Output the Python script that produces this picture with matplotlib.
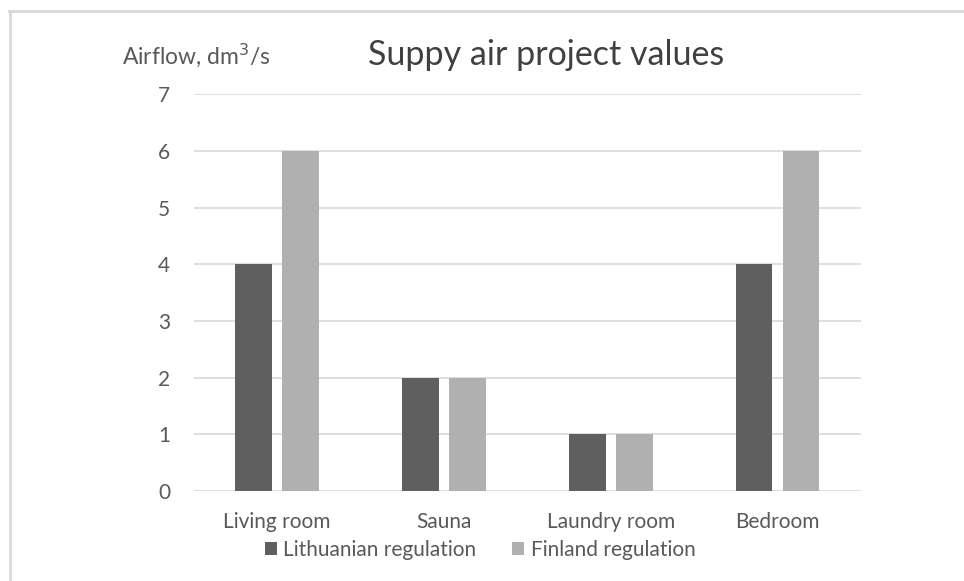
import matplotlib
matplotlib.use("Agg")
import matplotlib.pyplot as plt
from matplotlib.lines import Line2D
import numpy as np

rooms = ["Living room", "Sauna", "Laundry room", "Bedroom"]
lithuanian = [4, 2, 1, 4]
finland = [6, 2, 1, 6]
series_names = ["Lithuanian regulation", "Finland regulation"]

plt.rcParams['font.family'] = ['Lato', 'DejaVu Sans']
text_col = '#595959'
dark = '#5f5f5f'
light = '#b0b0b0'
grid_col = '#d9d9d9'

fig = plt.figure(figsize=(9.64, 5.81), dpi=100)
ax = fig.add_axes([0.201, 0.155, 0.692, 0.683])

x = np.arange(len(rooms))
w = 0.22
off = 0.141
ax.bar(x - off, lithuanian, w, color=dark, label=series_names[0], zorder=3)
ax.bar(x + off, finland, w, color=light, label=series_names[1], zorder=3)

ax.set_xlim(-0.5, len(rooms) - 0.5)
ax.set_ylim(0, 7)
ax.set_yticks(range(8))
ax.set_xticks(x)
ax.set_xticklabels(rooms)
ax.yaxis.grid(True, color=grid_col, linewidth=1.2, zorder=0)
for s in ax.spines.values():
    s.set_visible(False)
ax.tick_params(axis='both', length=0, labelsize=15, labelcolor=text_col)
ax.tick_params(axis='y', pad=17)
ax.tick_params(axis='x', pad=15)

fig.text(0.567, 0.905, "Suppy air project values", ha='center', va='center',
         fontsize=24.5, color='#404040')
fig.text(0.127, 0.905, "Airflow, dm$^3$/s", ha='left', va='center',
         fontsize=16.5, color=text_col)

leg = fig.legend(loc='center', bbox_to_anchor=(0.498, 0.053), ncol=2, frameon=False,
                 fontsize=15, handlelength=0.6, handleheight=0.6, handletextpad=0.3,
                 columnspacing=1.7, labelcolor=text_col)

# chart border (only top and left edges are visible in the crop)
fig.add_artist(Line2D([0.0095, 1], [0.981, 0.981], transform=fig.transFigure,
                      color=grid_col, linewidth=2))
fig.add_artist(Line2D([0.0105, 0.0105], [0, 0.981], transform=fig.transFigure,
                      color=grid_col, linewidth=2))

fig.savefig("out.png", dpi=100)
